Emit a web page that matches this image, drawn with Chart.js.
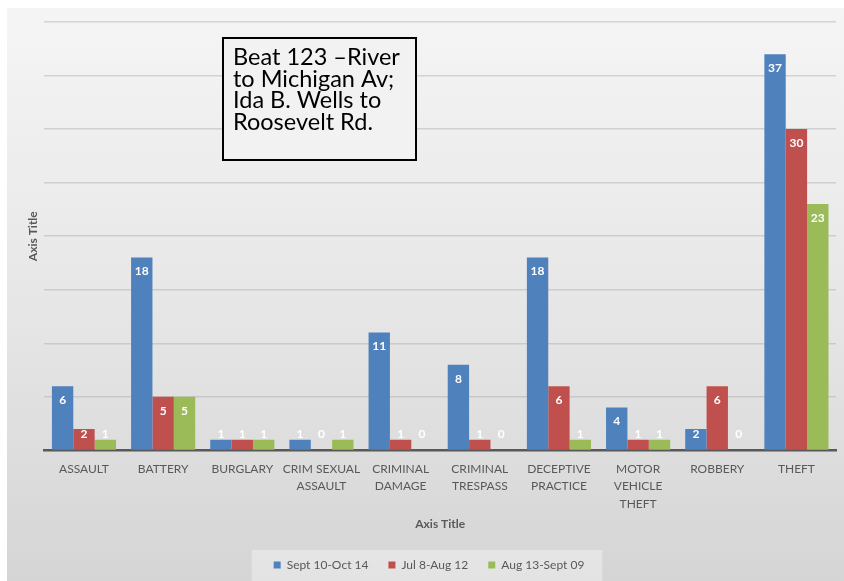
<!DOCTYPE html>
<html>
<head>
<meta charset="utf-8">
<script src="https://cdn.jsdelivr.net/npm/chart.js@4/dist/chart.umd.min.js"></script>
<style>
  body { margin: 0; background: #fff; }
  #wrap { width: 844px; height: 581px; position: relative; }
</style>
</head>
<body>
<div id="wrap"><canvas id="chart"></canvas></div>
<script>
var categories = [
  'ASSAULT', 'BATTERY', 'BURGLARY', ['CRIM SEXUAL', 'ASSAULT'], ['CRIMINAL', 'DAMAGE'],
  ['CRIMINAL', 'TRESPASS'], ['DECEPTIVE', 'PRACTICE'], ['MOTOR', 'VEHICLE', 'THEFT'], 'ROBBERY', 'THEFT'
];
var seriesNames = ['Sept 10-Oct 14', 'Jul 8-Aug 12', 'Aug 13-Sept 09'];
var sept10Oct14 = [6, 18, 1, 1, 11, 8, 18, 4, 2, 37];
var jul8Aug12 = [2, 5, 1, 0, 1, 1, 6, 1, 6, 30];
var aug13Sept09 = [1, 5, 1, 1, 0, 0, 1, 1, 0, 23];
var noteLines = ['Beat 123 \u2013River', 'to Michigan Av;', 'Ida B. Wells to', 'Roosevelt Rd.'];

var colors = ['#4f81bd', '#c0504d', '#9bbb59'];
var textGray = '#595959';
Chart.defaults.font.family = 'Lato, "Open Sans", sans-serif';

// gray gradient panel behind the chart + lighter legend strip
var backdrop = {
  id: 'backdrop',
  beforeDraw: function(chart) {
    var ctx = chart.ctx;
    ctx.save();
    ctx.fillStyle = '#ffffff';
    ctx.fillRect(0, 0, chart.width, chart.height);
    var g = ctx.createLinearGradient(0, 8, 0, chart.height);
    g.addColorStop(0, '#f5f5f5');
    g.addColorStop(0.5, '#e7e7e7');
    g.addColorStop(1, '#d5d5d5');
    ctx.fillStyle = g;
    ctx.fillRect(7, 8, chart.width - 7, chart.height - 8);
    var boxes = chart.legend.legendHitBoxes;
    if (boxes && boxes.length) {
      var l = boxes[0].left, last = boxes[boxes.length - 1];
      var r = last.left + last.width;
      ctx.fillStyle = 'rgba(255,255,255,0.35)';
      ctx.fillRect(l - 22, boxes[0].top - 9, r - l + 40, chart.height - boxes[0].top + 9);
    }
    ctx.restore();
  }
};

// value labels near the top inside each bar
var barLabels = {
  id: 'barLabels',
  afterDatasetsDraw: function(chart) {
    var ctx = chart.ctx;
    ctx.save();
    ctx.font = 'bold 12px Lato, sans-serif';
    ctx.fillStyle = '#ffffff';
    ctx.textAlign = 'center';
    ctx.textBaseline = 'middle';
    chart.data.datasets.forEach(function(ds, i) {
      chart.getDatasetMeta(i).data.forEach(function(bar, j) {
        var y = Math.min(bar.y + 14, bar.base - 16);
        ctx.fillText(String(ds.data[j]), bar.x, y);
      });
    });
    ctx.restore();
  }
};

// text box annotation
var noteBox = {
  id: 'noteBox',
  afterDraw: function(chart) {
    var ctx = chart.ctx;
    ctx.save();
    ctx.fillStyle = '#f2f2f2';
    ctx.fillRect(223, 38, 193, 122);
    ctx.strokeStyle = '#000';
    ctx.lineWidth = 2;
    ctx.strokeRect(223, 38, 193, 122);
    ctx.fillStyle = '#000';
    ctx.font = '23.5px Lato, sans-serif';
    ctx.textBaseline = 'alphabetic';
    noteLines.forEach(function(t, i) {
      ctx.fillText(t, 233, 65 + i * 21.5);
    });
    ctx.restore();
  }
};

var ctx = document.getElementById('chart').getContext('2d');
var myChart = new Chart(ctx, {
  type: 'bar',
  data: {
    labels: categories,
    datasets: [
      { label: seriesNames[0], data: sept10Oct14, backgroundColor: colors[0] },
      { label: seriesNames[1], data: jul8Aug12, backgroundColor: colors[1] },
      { label: seriesNames[2], data: aug13Sept09, backgroundColor: colors[2] }
    ]
  },
  options: {
    responsive: true,
    maintainAspectRatio: false,
    animation: false,
    layout: { padding: { left: 22, right: 8, top: 22, bottom: 0 } },
    datasets: { bar: { categoryPercentage: 0.81, barPercentage: 1 } },
    plugins: {
      tooltip: { enabled: false },
      legend: {
        position: 'bottom',
        labels: { boxWidth: 7, boxHeight: 7, padding: 20, color: textGray, font: { size: 12 } }
      }
    },
    scales: {
      x: {
        grid: { color: 'rgba(0,0,0,0)', drawTicks: false },
        border: { display: true, color: '#595959', width: 2.5 },
        ticks: { color: textGray, font: { size: 12, lineHeight: 1.45 }, padding: 10, maxRotation: 0, minRotation: 0, autoSkip: false },
        title: { display: true, text: 'Axis Title', color: textGray, font: { size: 12, weight: 'bold' }, padding: { top: -6, bottom: 8 } }
      },
      y: {
        min: 0, max: 40,
        ticks: { display: false, stepSize: 5 },
        grid: {
          drawTicks: false,
          lineWidth: 1.5,
          color: function(c) { return c.tick && c.tick.value === 0 ? 'rgba(0,0,0,0)' : 'rgba(170,170,170,0.45)'; }
        },
        border: { display: false },
        title: { display: true, text: 'Axis Title', color: textGray, font: { size: 12, weight: 'bold' } }
      }
    }
  },
  plugins: [backdrop, barLabels, noteBox]
});
</script>
</body>
</html>
